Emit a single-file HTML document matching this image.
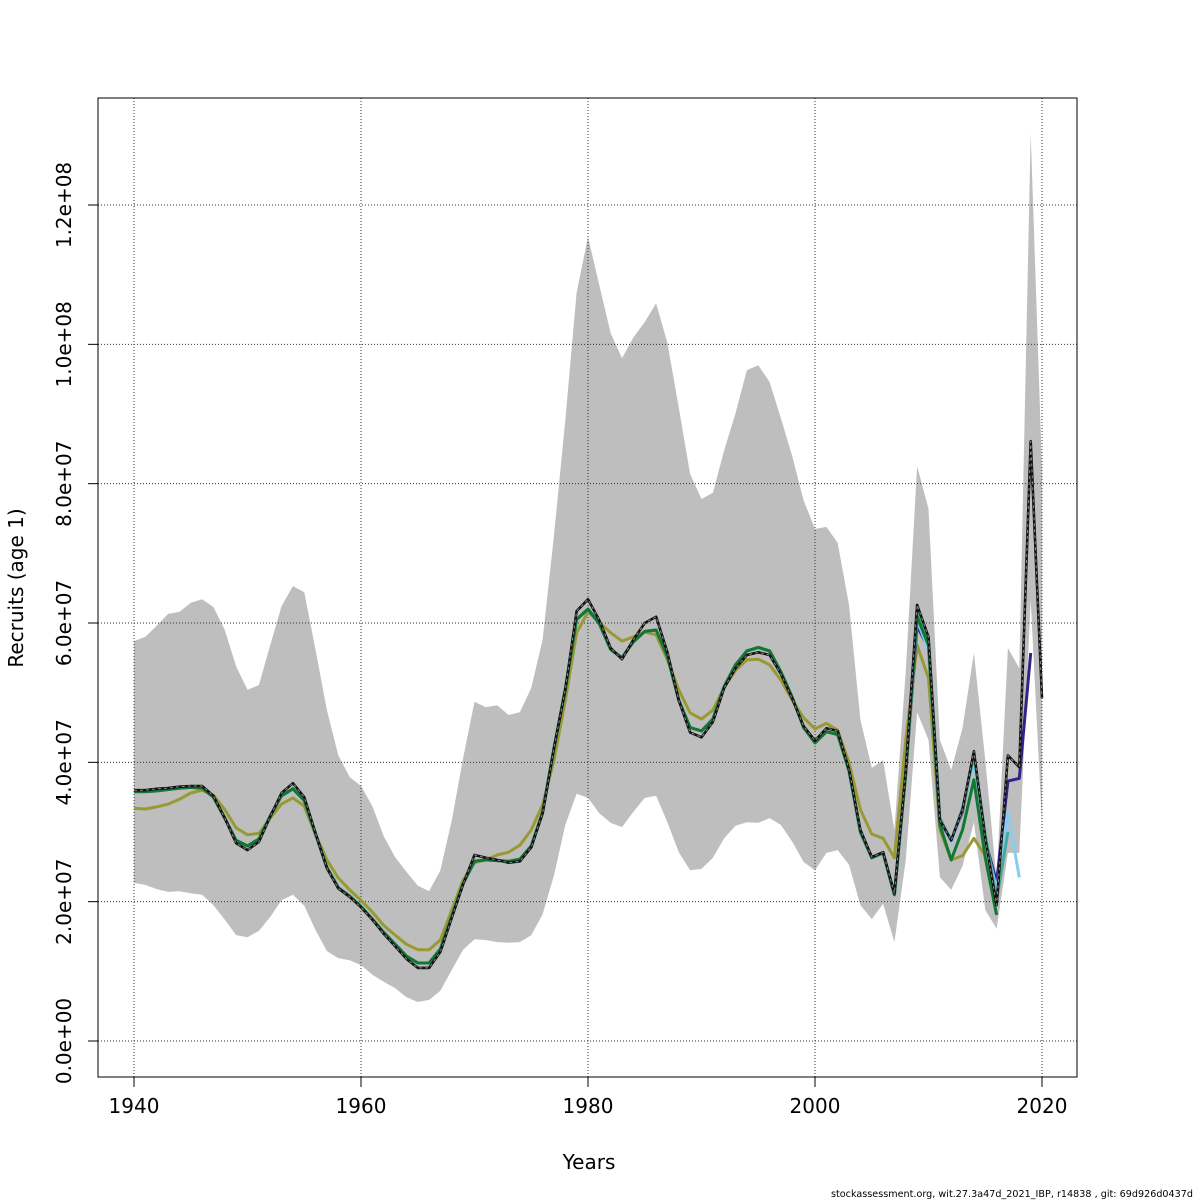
<!DOCTYPE html>
<html><head><meta charset="utf-8"><style>
body{margin:0;background:#fff;}
svg{display:block;font-family:"DejaVu Sans","Liberation Sans",sans-serif;}
</style></head><body>
<svg id="chart" width="1200" height="1200" viewBox="0 0 1200 1200">
<rect x="0" y="0" width="1200" height="1200" fill="#fff"/>
<g id="band"></g>
<g id="grid"></g>
<g id="lines"></g>
<rect x="98" y="98" width="979" height="979" fill="none" stroke="#000" stroke-width="1"/>
<g id="axes"></g>
<text x="589" y="1169" font-size="20" text-anchor="middle">Years</text>
<text transform="translate(23,588) rotate(-90)" font-size="20" text-anchor="middle">Recruits (age 1)</text>
<text x="1193" y="1197" font-size="9.6" text-anchor="end" textLength="362">stockassessment.org, wit.27.3a47d_2021_IBP, r14838 , git: 69d926d0437d</text>
</svg>
<script>
const startYear = 1940;
const xTicks = [1940, 1960, 1980, 2000, 2020];
const yTicks = [0, 20, 40, 60, 80, 100, 120];
const yTickLabels = ["0.0e+00","2.0e+07","4.0e+07","6.0e+07","8.0e+07","1.0e+08","1.2e+08"];
// values in millions, 1940..2020
const bandUpper = [57.4,58.0,59.6,61.3,61.6,62.9,63.4,62.3,59.0,53.8,50.4,51.1,56.8,62.4,65.3,64.4,56.1,47.5,41.0,37.9,36.6,33.7,29.4,26.4,24.3,22.3,21.5,24.5,31.7,40.6,48.7,47.9,48.2,46.8,47.2,50.7,57.6,72.6,89.1,107.4,115.4,108.5,101.6,98.0,101.0,103.2,105.9,100.2,90.9,81.4,77.8,78.7,84.8,90.1,96.3,97.0,94.6,89.4,83.9,77.6,73.5,73.8,71.5,62.6,46.1,39.2,40.3,30.3,53.2,82.5,76.4,43.2,38.9,44.9,55.7,40.3,23.1,56.4,53.5,130.3,82.0];
const bandLower = [22.7,22.4,21.8,21.4,21.5,21.2,21.0,19.5,17.4,15.2,14.9,15.8,17.8,20.2,21.0,19.4,15.9,12.9,11.9,11.6,10.9,9.5,8.5,7.6,6.3,5.6,5.9,7.2,10.2,13.1,14.6,14.5,14.2,14.1,14.2,15.2,18.2,23.8,31.0,35.5,34.9,32.7,31.3,30.7,32.9,34.9,35.2,31.4,27.1,24.5,24.7,26.3,29.1,30.9,31.4,31.3,32.0,31.0,28.6,25.7,24.5,27.0,27.4,25.3,19.5,17.5,19.7,14.2,26.0,47.2,43.2,23.5,21.7,25.1,31.4,18.8,16.1,27.0,27.0,63.3,31.0];
const finalRecruits = [36.0,36.0,36.2,36.3,36.5,36.6,36.6,35.2,32.0,28.4,27.4,28.6,32.2,35.6,37.0,35.0,29.8,24.8,21.9,20.7,19.2,17.4,15.4,13.6,11.8,10.5,10.5,12.8,17.7,22.5,26.7,26.3,26.0,25.6,25.8,27.8,32.7,42.1,50.4,61.7,63.4,60.4,56.4,54.8,57.6,60.0,60.9,55.8,48.9,44.3,43.6,45.8,50.7,53.5,55.4,55.8,55.4,52.7,49.1,45.2,43.1,44.9,44.5,39.0,30.3,26.4,27.1,21.2,38.9,62.6,58.0,31.7,28.8,33.2,41.6,29.1,19.5,41.0,39.3,86.1,49.2];
const retroHistory = [35.8,35.8,35.9,36.1,36.3,36.4,36.3,35.0,32.0,28.8,28.0,29.0,32.3,35.2,36.2,34.5,29.7,24.9,22.0,20.8,19.3,17.5,15.6,13.9,12.2,11.2,11.2,13.2,17.9,22.6,25.8,26.0,25.9,25.8,26.1,28.0,32.8,42.0,50.5,60.5,62.0,59.9,56.2,55.0,57.3,58.8,59.0,55.2,48.9,45.0,44.5,46.2,50.9,54.0,56.0,56.5,56.0,53.0,49.3,45.0,42.8,44.4,44.0,38.8,30.0,26.3,27.0,21.0,38.5];
const purpleTail = [59.6,56.4,31.4,28.8,32.9,40.8,28.8,22.8,37.3,37.7,55.7];
const lightBlueTail = [60.4,56.1,31.7,28.5,33.2,40.3,28.8,21.7,32.9,23.5];
const tealTail = [61.9,57.6,32.0,28.8,33.4,41.0,29.6,20.2,30.0];
const greenTail = [60.9,56.8,31.0,26.0,30.3,37.5,26.3,18.1];
const oliveRecruits = [33.4,33.3,33.6,34.0,34.7,35.6,36.0,35.3,33.2,30.6,29.6,29.8,32.0,34.0,34.9,33.7,29.6,26.0,23.4,21.7,20.2,18.5,16.6,15.2,13.9,13.1,13.1,14.5,18.8,23.1,25.6,26.0,26.7,27.1,28.1,30.3,33.9,40.3,48.9,58.6,61.6,60.1,58.6,57.4,58.0,58.7,58.3,54.7,50.4,47.1,46.2,47.5,50.8,53.2,54.7,54.8,54.0,51.8,48.9,46.4,44.8,45.6,44.6,40.0,33.2,29.7,29.1,26.3,43.2,56.8,52.1,30.3,26.0,26.6,29.1,26.6];

const X = yr => 134 + (yr - 1940) * (908 / 80);
const Y = v => 1041 - v * (836 / 120);
const NS = "http://www.w3.org/2000/svg";
function mk(tag, attrs, parent){const e=document.createElementNS(NS,tag);for(const k in attrs)e.setAttribute(k,attrs[k]);parent.appendChild(e);return e;}
const pts = arr => arr.map((v,i)=>X(startYear+i).toFixed(1)+","+Y(v).toFixed(1)).join(" ");

const bandG=document.getElementById("band");
let up=bandUpper.map((v,i)=>X(startYear+i).toFixed(1)+","+Y(v).toFixed(1));
let lo=bandLower.map((v,i)=>X(startYear+i).toFixed(1)+","+Y(v).toFixed(1)).reverse();
const poly=mk("polygon",{points:up.concat(lo).join(" "),fill:"#bebebe",stroke:"none"},bandG);



const gridG=document.getElementById("grid"), axG=document.getElementById("axes");
xTicks.forEach(t=>{
  const gl=mk("line",{x1:X(t),x2:X(t),y1:98,y2:1077,stroke:"#333","stroke-width":1,"stroke-dasharray":"1,2"},gridG);
  
  
  const tk=mk("line",{x1:X(t),x2:X(t),y1:1077,y2:1087,stroke:"#000"},axG);
  
  
  const tx=mk("text",{x:X(t),y:1113,"font-size":20,"text-anchor":"middle"},axG);
  tx.textContent=t;
  
  
});
yTicks.forEach((t,i)=>{
  const gl=mk("line",{x1:98,x2:1077,y1:Y(t),y2:Y(t),stroke:"#333","stroke-width":1,"stroke-dasharray":"1,2"},gridG);
  
  
  const tk=mk("line",{x1:88,x2:98,y1:Y(t),y2:Y(t),stroke:"#000"},axG);
  
  
  const tx=mk("text",{transform:`translate(71,${Y(t)}) rotate(-90)`,"font-size":20,"text-anchor":"middle"},axG);
  tx.textContent=yTickLabels[i];
  
  
});

const linesG=document.getElementById("lines");
function line(arr,color,w,name,extra){
  const p=mk("polyline",Object.assign({points:pts(arr),fill:"none",stroke:color,"stroke-width":w,"stroke-linejoin":"round"},extra||{}),linesG);
  
  
}
line(oliveRecruits,"#999933",3,"retro-2015-line");
line(retroHistory.concat(purpleTail),"#332288",3,"retro-2019-line");
line(retroHistory.concat(lightBlueTail),"#88ccee",3,"retro-2018-line");
line(retroHistory.concat(tealTail),"#44aa99",3,"retro-2017-line");
line(retroHistory.concat(greenTail),"#117733",3,"retro-2016-line");
line(finalRecruits,"#111",2.6,"final-estimate-line");
line(finalRecruits,"#8a8a8a",1,"final-estimate-dash",{"stroke-dasharray":"3,3"});
</script>
</body></html>
